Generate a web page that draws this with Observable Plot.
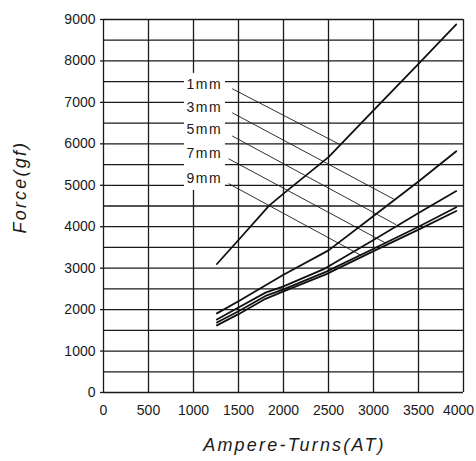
<!DOCTYPE html>
<html><head><meta charset="utf-8">
<script src="https://cdn.jsdelivr.net/npm/d3@7"></script>
<script src="https://cdn.jsdelivr.net/npm/@observablehq/plot@0.6"></script>
<style>
body{margin:0;background:#fff}
svg{font-family:"Liberation Sans",Arial,sans-serif}
</style>
</head><body><div id="chart"></div>
<script>
// ---- data ----
const gaps = ["1mm", "3mm", "5mm", "7mm", "9mm"];
const at1mm = [1260, 1500, 1840, 2000, 2500, 3000, 3500, 3920];
const force1mm = [3100, 3680, 4510, 4800, 5680, 6810, 7930, 8880];
const at3mm = [1260, 1500, 2000, 2500, 3000, 3500, 3920];
const force3mm = [1910, 2200, 2840, 3430, 4260, 5090, 5820];
const at5mm = [1260, 1500, 1800, 2000, 2460, 3000, 3500, 3920];
const force5mm = [1760, 2050, 2410, 2560, 2990, 3680, 4330, 4860];
const at7mm = [1260, 1500, 1800, 2000, 2470, 3000, 3500, 3920];
const force7mm = [1690, 1960, 2330, 2490, 2910, 3470, 4000, 4470];
const at9mm = [1260, 1500, 1800, 2000, 2470, 3000, 3500, 3920];
const force9mm = [1620, 1890, 2260, 2440, 2850, 3410, 3930, 4380];

// label and leader-line anchors (data units)
const labelAT = [1120, 1120, 1120, 1120, 1120];
const labelForce = [7420, 6880, 6340, 5760, 5160];
const leaderStartAT = [1430, 1430, 1430, 1390, 1390];
const leaderStartForce = [7330, 6750, 6190, 5640, 5040];
const leaderEndAT = [2620, 3230, 3250, 3140, 2860];
const leaderEndForce = [5990, 4660, 4050, 3600, 3310];

const xTicks = [0, 500, 1000, 1500, 2000, 2500, 3000, 3500];
const xLastTick = [4000];
const yTicks = [0, 1000, 2000, 3000, 4000, 5000, 6000, 7000, 8000, 9000];
const xGrid = d3.range(0, 4001, 500);
const yGrid = d3.range(0, 9001, 500);
const xTitle = "Ampere-Turns(AT)";
const yTitle = "Force(gf)";

// ---- build tables ----
const series = [
  [gaps[0], at1mm, force1mm],
  [gaps[1], at3mm, force3mm],
  [gaps[2], at5mm, force5mm],
  [gaps[3], at7mm, force7mm],
  [gaps[4], at9mm, force9mm]
];
const rows = series.flatMap(([gap, xs, ys]) => xs.map((x, i) => ({gap, at: x, force: ys[i]})));
const labels = gaps.map((g, i) => ({gap: g, at: labelAT[i], force: labelForce[i]}));
const leaders = gaps.map((g, i) => ({
  x1: leaderStartAT[i], y1: leaderStartForce[i], x2: leaderEndAT[i], y2: leaderEndForce[i]
}));
const box = [{
  x1: d3.min(labelAT) - 220, x2: d3.max(labelAT) + 235,
  y1: d3.min(labelForce) - 285, y2: d3.max(labelForce) + 280
}];

const ink = "#1a1a1a";
const plot = Plot.plot({
  width: 476, height: 461,
  marginLeft: 103, marginRight: 13, marginTop: 19, marginBottom: 69,
  style: {fontFamily: "Liberation Sans, Arial, sans-serif", fontSize: "14px", color: ink, background: "white"},
  x: {domain: [0, 4000]},
  y: {domain: [0, 9000]},
  marks: [
    Plot.gridX(xGrid, {stroke: ink, strokeOpacity: 1, strokeWidth: 1.3}),
    Plot.gridY(yGrid, {stroke: ink, strokeOpacity: 1, strokeWidth: 1.3}),
    Plot.rect(box, {x1: "x1", x2: "x2", y1: "y1", y2: "y2", fill: "white"}),
    Plot.axisX(xTicks, {tickSize: 0, tickPadding: 13, label: null, tickFormat: "d", fontSize: 14}),
    Plot.axisX(xLastTick, {tickSize: 0, tickPadding: 13, label: null, tickFormat: "d", fontSize: 14, dx: -5}),
    Plot.axisY(yTicks, {tickSize: 3, tickPadding: 5, label: null, tickFormat: "d", fontSize: 14, strokeWidth: 1.3}),
    Plot.link(leaders, {x1: "x1", y1: "y1", x2: "x2", y2: "y2", stroke: ink, strokeWidth: 0.9}),
    Plot.line(rows, {x: "at", y: "force", z: "gap", stroke: "#111", strokeWidth: 1.8, curve: "linear"}),
    Plot.text(labels, {x: "at", y: "force", text: "gap", fontSize: 14, fill: ink}),
    Plot.text([xTitle], {text: d => d, frameAnchor: "bottom", dy: 58, dx: 11, fontStyle: "italic", fontSize: 18, fill: ink}),
    Plot.text([yTitle], {text: d => d, frameAnchor: "left", rotate: -90, dx: -83.5, dy: 27.5, fontStyle: "italic", fontSize: 18, fill: ink})
  ]
});

d3.select(plot).selectAll("text").each(function() {
  const t = this.textContent;
  if (t === xTitle || t === yTitle) d3.select(this).attr("letter-spacing", "2.2px");
  else if (gaps.includes(t)) d3.select(this).attr("letter-spacing", "1.5px");
});
document.getElementById("chart").appendChild(plot);
</script>
</body></html>
